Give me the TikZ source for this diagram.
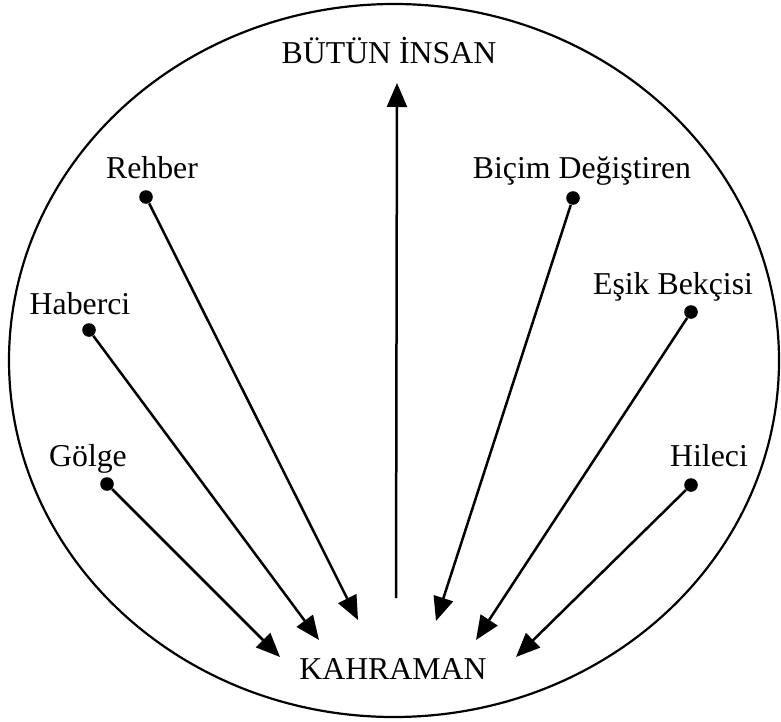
\documentclass[tikz,border=0pt]{standalone}
\usepackage{fontspec}
\setmainfont{Liberation Serif}
\usepackage{tikz}
\usetikzlibrary{arrows.meta}

\begin{document}
\begin{tikzpicture}[
  x=0.5pt,y=-0.5pt,
  lbl/.style={font=\fontsize{15.9}{18}\selectfont,inner sep=0pt,anchor=base},
  bullet/.style={circle,fill=black,inner sep=0pt,minimum size=6.8pt},
  arr/.style={-{Triangle[length=12pt,width=10pt]},line width=1.25pt}
]
  \useasboundingbox (0,0) rectangle (781,722);
  \draw[line width=1.1pt] (394,360.5) ellipse [x radius=192.5pt,y radius=178.25pt];
  % archetypes
  \node[lbl] (whole) at (389,64) {BÜTÜN İNSAN};
  \node[lbl] (hero) at (393,679) {KAHRAMAN};
  \node[lbl] (rehber) at (152,178) {Rehber};
  \node[lbl] (haberci) at (80,314) {Haberci};
  \node[lbl] (golge) at (88,466.5) {Gölge};
  \node[lbl] (bicim) at (582,178) {Biçim Değiştiren};
  \node[lbl] (esik) at (673,294) {Eşik Bekçisi};
  \node[lbl] (hileci) at (709,466.5) {Hileci};
  \node[bullet] (rehberDot) at (146,197) {};
  \node[bullet] (haberciDot) at (89,330) {};
  \node[bullet] (golgeDot) at (107,484) {};
  \node[bullet] (bicimDot) at (573,198) {};
  \node[bullet] (esikDot) at (691,312) {};
  \node[bullet] (hileciDot) at (691,485) {};
  % arrow ends around the hero
  \coordinate (rehberEnd) at (358,620);
  \coordinate (haberciEnd) at (319,640);
  \coordinate (golgeEnd) at (280,657);
  \coordinate (bicimEnd) at (436,621);
  \coordinate (esikEnd) at (476,640);
  \coordinate (hileciEnd) at (516,657);
  \coordinate (upStart) at (396,598);
  \coordinate (upEnd) at (397,83);
  \foreach \a/\b in {rehberDot/rehberEnd,haberciDot/haberciEnd,golgeDot/golgeEnd,
                     bicimDot/bicimEnd,esikDot/esikEnd,hileciDot/hileciEnd}
    \draw[arr] (\a)--(\b);
  \draw[arr] (upStart)--(upEnd);
\end{tikzpicture}
\end{document}
